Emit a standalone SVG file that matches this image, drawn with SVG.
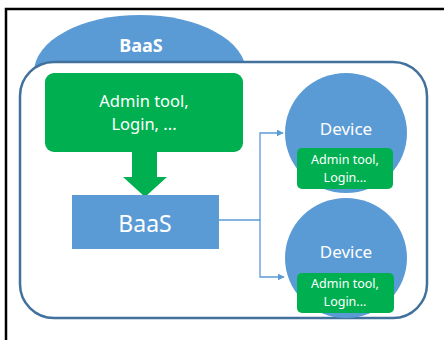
<svg xmlns="http://www.w3.org/2000/svg" width="444" height="340" viewBox="0 0 444 340">
  <defs>
    <marker id="arrow" viewBox="0 0 10 10" refX="9" refY="5" markerWidth="7" markerHeight="7" markerUnits="userSpaceOnUse" orient="auto">
      <path d="M0,0 L10,5 L0,10 z" fill="#5B9BD5"/>
    </marker>
  </defs>
  <style>
    text { font-family: "Noto Sans", "Open Sans", "Liberation Sans", sans-serif; fill: #ffffff; text-anchor: middle; }
    .blue { fill: #5B9BD5; }
    .green { fill: #00B050; }
    .conn { fill: none; stroke: #5B9BD5; stroke-width: 1.3; }
  </style>
  <rect x="0" y="0" width="444" height="340" fill="#ffffff"/>
  <!-- outer frame -->
  <path d="M6,340 V9 H444" fill="none" stroke="#000000" stroke-width="2.5"/>

  <g id="baas-cloud">
    <ellipse class="blue" cx="140" cy="72" rx="106" ry="57"/>
    <text x="141" y="52" font-size="18" font-weight="bold">BaaS</text>
  </g>

  <g id="container">
    <rect x="20" y="62" width="407" height="256" rx="34" ry="34" fill="#ffffff" stroke="#41719C" stroke-width="2.5"/>
  </g>

  <g id="admin-tool">
    <rect class="green" x="45" y="73" width="198" height="79" rx="9" ry="9"/>
    <text x="144" y="107" font-size="16.5">Admin tool,</text>
    <text x="144" y="130" font-size="16.5">Login, ...</text>
  </g>

  <g id="down-arrow">
    <path class="green" d="M132,152 H157 V177 H167 L145,197 L123,177 H132 Z"/>
  </g>

  <g id="baas-box">
    <rect class="blue" x="72" y="195" width="147" height="54"/>
    <text x="145" y="232" font-size="23">BaaS</text>
  </g>

  <g id="connectors">
    <path class="conn" d="M219,220 H260 V133 H283" marker-end="url(#arrow)"/>
    <path class="conn" d="M260,220 V277 H284" marker-end="url(#arrow)"/>
  </g>

  <g id="device-1">
    <ellipse class="blue" cx="346" cy="133" rx="61" ry="60"/>
    <text x="346" y="135" font-size="17">Device</text>
    <rect class="green" x="297" y="148" width="96" height="41" rx="5" ry="5"/>
    <text x="345" y="164" font-size="12.5">Admin tool,</text>
    <text x="345" y="182" font-size="12.5">Login...</text>
  </g>

  <g id="device-2">
    <ellipse class="blue" cx="346" cy="258" rx="61" ry="60"/>
    <text x="346" y="258" font-size="17">Device</text>
    <rect class="green" x="297" y="273" width="97" height="40" rx="5" ry="5"/>
    <text x="345" y="288" font-size="12.5">Admin tool,</text>
    <text x="345" y="306" font-size="12.5">Login...</text>
  </g>
</svg>
